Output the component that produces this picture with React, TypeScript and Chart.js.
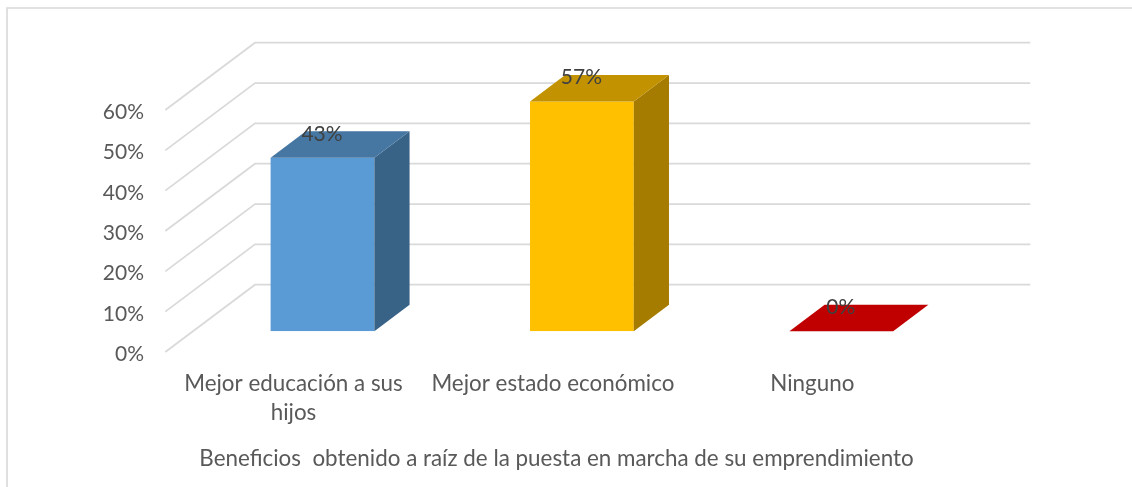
import React, { useEffect, useRef } from "react";
import { Chart, registerables } from "chart.js";

Chart.register(...registerables);

const categories = [["Mejor educación a sus", "hijos"], "Mejor estado económico", "Ninguno"];
const seriesValues = [43, 57, 0];
const tickValues = [0, 10, 20, 30, 40, 50, 60];
const frontColors = ["#5B9BD5", "#FFC000", "#C00000"];
const topColors = ["#4676A2", "#C29200", "#C00000"];
const sideColors = ["#396287", "#A67C00", "#A00000"];
const axisTitle = "Beneficios  obtenido a raíz de la puesta en marcha de su emprendimiento";

const FONT = "Lato, 'Open Sans', sans-serif";
const DEPTH_X = 35.2;
const DEPTH_Y = 26.5;

const poly = (ctx: CanvasRenderingContext2D, pts: number[][], color: string) => {
  ctx.beginPath();
  pts.forEach(([x, y], i) => (i ? ctx.lineTo(x, y) : ctx.moveTo(x, y)));
  ctx.closePath();
  ctx.fillStyle = color;
  ctx.fill();
};

const framePlugin = {
  id: "frame",
  beforeDraw(chart: any) {
    const { ctx } = chart;
    ctx.save();
    ctx.strokeStyle = "#D9D9D9";
    ctx.lineWidth = 1.6;
    ctx.beginPath();
    ctx.moveTo(7, chart.height);
    ctx.lineTo(7, 8);
    ctx.lineTo(chart.width, 8);
    ctx.stroke();
    ctx.restore();
  },
};

const wallPlugin = {
  id: "wall",
  beforeDatasetsDraw(chart: any) {
    const { ctx, scales } = chart;
    const y = scales.y;
    const frontX = 165.3;
    const backX = 255;
    const endX = 1030.3;
    ctx.save();
    ctx.strokeStyle = "#D9D9D9";
    ctx.lineWidth = 1.7;
    y.ticks.forEach((t: any) => {
      const py = y.getPixelForValue(t.value);
      ctx.beginPath();
      ctx.moveTo(frontX, py + 20.7);
      ctx.lineTo(backX, py - 46.6);
      ctx.lineTo(endX, py - 46.6);
      ctx.stroke();
    });
    ctx.restore();
  },
};

const boxPlugin = {
  id: "box",
  afterDatasetsDraw(chart: any) {
    const { ctx } = chart;
    const bars = chart.getDatasetMeta(0).data;
    ctx.save();
    bars.forEach((bar: any, i: number) => {
      const left = bar.x - bar.width / 2;
      const right = bar.x + bar.width / 2;
      const top = bar.y;
      const base = bar.base;
      if (base - top > 0.5) {
        poly(ctx, [[right, top], [right + DEPTH_X, top - DEPTH_Y], [right + DEPTH_X, base - DEPTH_Y], [right, base]], sideColors[i]);
      }
      poly(ctx, [[left, top], [right, top], [right + DEPTH_X, top - DEPTH_Y], [left + DEPTH_X, top - DEPTH_Y]], topColors[i]);
    });
    ctx.fillStyle = "#404040";
    ctx.font = `21px ${FONT}`;
    ctx.textAlign = "center";
    ctx.textBaseline = "middle";
    bars.forEach((bar: any, i: number) => {
      ctx.fillText(`${seriesValues[i]}%`, bar.x - 0.5, bar.y - 24);
    });
    ctx.restore();
  },
};

export default function App() {
  const ref = useRef<HTMLCanvasElement>(null);
  useEffect(() => {
    const chart = new Chart(ref.current!, {
      type: "bar",
      data: {
        labels: categories as any,
        datasets: [
          {
            data: seriesValues,
            backgroundColor: frontColors,
            borderWidth: 0,
            barPercentage: 1,
            categoryPercentage: 0.4,
          },
        ],
      },
      options: {
        animation: false,
        responsive: false,
        layout: { padding: { top: 89.3, right: 19, left: 0, bottom: 0 } },
        plugins: {
          legend: { display: false },
          tooltip: { enabled: false },
          title: {
            display: true,
            position: "bottom",
            text: axisTitle,
            color: "#595959",
            font: { family: FONT, size: 22.4, weight: "normal", lineHeight: 1.2 },
            padding: { top: 0, bottom: 14.6 },
          },
        },
        scales: {
          x: {
            grid: { display: false },
            border: { display: false },
            afterFit: (s: any) => {
              s.height = 114.2;
            },
            ticks: {
              color: "#595959",
              font: { family: FONT, size: 22.4, lineHeight: 1.3 },
              padding: 30,
              labelOffset: -29,
              maxRotation: 0,
              autoSkip: false,
            },
          },
          y: {
            min: 0,
            max: 60,
            grid: { display: false, drawTicks: false },
            border: { display: false },
            afterFit: (s: any) => {
              s.width = 192.8;
            },
            afterBuildTicks: (s: any) => {
              s.ticks = tickValues.map((value) => ({ value }));
            },
            ticks: {
              color: "#595959",
              font: { family: FONT, size: 21 },
              padding: 48.8,
              labelOffset: 23,
              callback: (v: any) => `${v}%`,
            },
          },
          yRight: {
            position: "right",
            min: 0,
            max: 60,
            grid: { display: false, drawTicks: false },
            border: { display: false },
            ticks: { display: false },
            afterFit: (s: any) => {
              s.width = 142;
            },
          },
        },
      } as any,
      plugins: [framePlugin, wallPlugin, boxPlugin],
    });
    return () => chart.destroy();
  }, []);
  return (
    <div style={{ position: "fixed", left: 0, top: 0, width: 1132, height: 487, background: "#fff" }}>
      <canvas ref={ref} width={1132} height={487} style={{ display: "block" }} />
    </div>
  );
}
